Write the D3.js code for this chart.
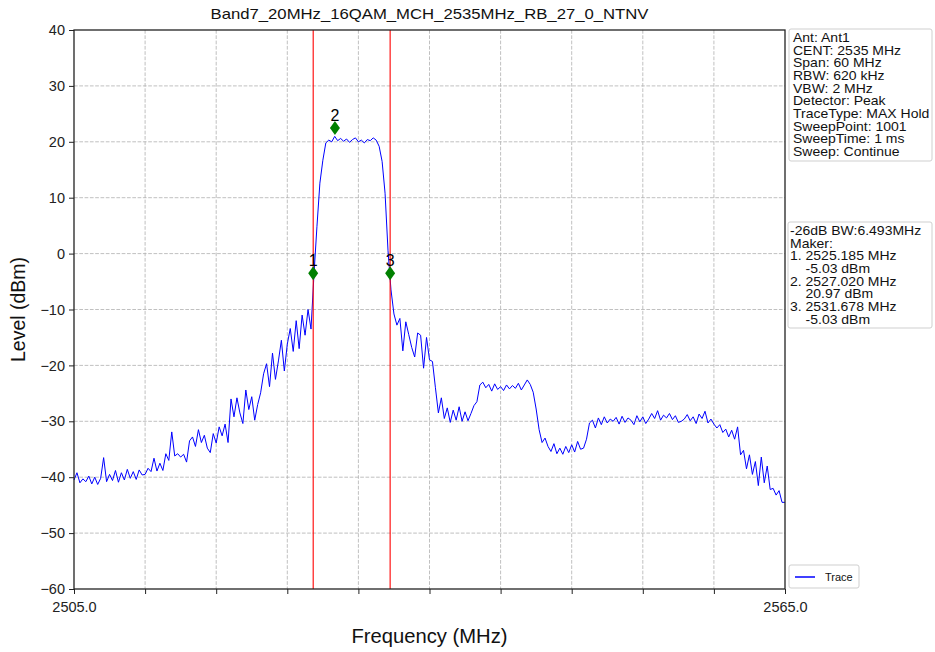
<!DOCTYPE html>
<html><head><meta charset="utf-8">
<script src="https://cdn.jsdelivr.net/npm/d3@7"></script>
<style>
body{margin:0;background:#fff;}
text{font-family:"Liberation Sans",Arial,sans-serif;}
</style></head>
<body><svg id="chart" width="935" height="652"></svg>
<script>
const titleText = "Band7_20MHz_16QAM_MCH_2535MHz_RB_27_0_NTNV";
const xDomain = [2505, 2565];
const yDomain = [-60, 40];
const yTicks = [-60, -50, -40, -30, -20, -10, 0, 10, 20, 30, 40];
const xTickCount = 10;
const xTickLabels = ["2505.0", "2565.0"];
const startFreq = 2505;
const stepMHz = 0.25;
const traceLevels = [
 -40.5,-39.2,-41.0,-40.3, -40.8,-39.8,-41.2,-40.0, -41.3,-40.2,-36.5,-40.8,
 -39.5,-40.6,-38.8,-40.9, -39.2,-40.5,-38.6,-40.2, -39.0,-40.4,-38.7,-39.6,
 -39.5,-38.4,-39.0,-36.6, -38.9,-37.5,-38.8,-35.8, -37.0,-31.9,-36.2,-35.8,
 -36.4,-35.9,-37.3,-33.5, -32.8,-34.5,-31.5,-33.8, -32.5,-34.8,-35.6,-32.2,
 -33.9,-31.0,-32.6,-30.5, -33.8,-26.0,-29.2,-25.8, -28.5,-30.4,-24.4,-27.9,
 -25.6,-29.8,-27.0,-24.9, -21.5,-19.7,-23.8,-17.8, -22.5,-19.2,-15.5,-21.0,
 -16.2,-13.4,-17.5,-12.0, -17.0,-11.0,-14.6,-10.0, -13.5,-3.8,4.8,12.6,
 16.7,19.8,20.3,20.0, 20.97,20.2,20.6,20.1, 20.5,19.9,20.4,20.7,
 20.0,20.3,19.8,20.4, 20.2,20.7,20.3,19.2, 16.5,10.8,0.5,-6.5,
 -10.8,-12.8,-11.6,-17.4, -12.2,-14.5,-16.8,-18.5, -14.2,-14.6,-20.5,-15.0,
 -19.0,-19.3,-24.0,-28.5, -25.8,-29.5,-27.6,-30.2, -28.0,-29.8,-27.4,-30.0,
 -28.3,-29.9,-28.6,-27.2, -26.5,-23.5,-23.0,-24.0, -23.4,-24.6,-23.3,-24.3,
 -23.8,-24.5,-23.5,-24.2, -23.6,-24.1,-23.2,-24.4, -23.5,-22.6,-23.4,-24.8,
 -27.8,-31.5,-33.8,-33.0, -34.5,-35.4,-34.0,-35.8, -34.8,-35.9,-34.5,-35.6,
 -34.2,-35.5,-33.6,-35.0, -34.8,-33.2,-30.3,-29.8, -31.2,-29.4,-30.6,-29.2,
 -30.3,-29.6,-30.0,-29.3, -30.5,-29.1,-30.2,-29.4, -29.8,-30.6,-29.0,-30.1,
 -29.2,-30.4,-29.6,-28.6, -29.5,-28.1,-29.8,-28.9, -29.4,-28.6,-29.7,-29.0,
 -30.2,-30.0,-29.6,-28.8, -29.9,-29.2,-30.4,-28.7, -29.5,-28.2,-30.3,-29.6,
 -30.5,-31.2,-30.6,-32.0, -31.4,-32.8,-31.6,-33.2, -31.0,-36.0,-35.2,-38.5,
 -36.0,-39.5,-37.2,-41.5, -36.4,-41.0,-38.0,-42.2, -42.0,-43.2,-42.4,-44.5,
 -44.5
];
const markerNames = ["1", "2", "3"];
const markerFreqs = [2525.185, 2527.020, 2531.678];
const markerLevels = [-5.03, 20.97, -5.03];
const redLineFreqs = [2525.185, 2531.678];
const infoLines = ["Ant: Ant1","CENT: 2535 MHz","Span: 60 MHz","RBW: 620 kHz","VBW: 2 MHz","Detector: Peak","TraceType: MAX Hold","SweepPoint: 1001","SweepTime: 1 ms","Sweep: Continue"];
const markerInfoLines = ["-26dB BW:6.493MHz","Maker:","1. 2525.185 MHz","    -5.03 dBm","2. 2527.020 MHz","    20.97 dBm","3. 2531.678 MHz","    -5.03 dBm"];
const legendLabel = "Trace";

const svg = d3.select("#chart");
const m = {l:74, r:785, t:30, b:589};
const x = d3.scaleLinear().domain(xDomain).range([m.l, m.r]);
const y = d3.scaleLinear().domain(yDomain).range([m.b, m.t]);
const xTicks = d3.range(xTickCount + 1).map(i => xDomain[0] + i * (xDomain[1]-xDomain[0]) / xTickCount);

// grid
const grid = svg.append("g").attr("stroke","#b0b0b0").attr("stroke-width",0.8).attr("stroke-dasharray","3.7,1.6");
grid.selectAll(".gx").data(xTicks.slice(1,-1)).join("line")
  .attr("x1",d=>x(d)).attr("x2",d=>x(d)).attr("y1",m.t).attr("y2",m.b);
grid.selectAll(".gy").data(yTicks.slice(1,-1)).join("line")
  .attr("x1",m.l).attr("x2",m.r).attr("y1",d=>y(d)).attr("y2",d=>y(d));

// trace
const traceData = traceLevels.map((v,i)=>({f:startFreq + i*stepMHz, v}));
svg.append("path").datum(traceData)
  .attr("fill","none").attr("stroke","#0000ff").attr("stroke-width",1)
  .attr("d", d3.line().x(d=>x(d.f)).y(d=>y(d.v)));

// red lines
svg.selectAll(".red").data(redLineFreqs).join("line")
  .attr("x1",d=>x(d)).attr("x2",d=>x(d)).attr("y1",m.t).attr("y2",m.b)
  .attr("stroke","#ff0000").attr("stroke-width",1.1);

// markers
const markerOffset = 1.5;
const mk = svg.selectAll(".mk").data(markerNames.map((n,i)=>({n, f:markerFreqs[i], v:markerLevels[i]+markerOffset}))).join("g")
  .attr("transform", d=>`translate(${x(d.f)},${y(d.v)})`);
mk.append("path").attr("d","M0,-7L5,0L0,7L-5,0Z").attr("fill","#008000");
mk.append("text").attr("y",-7).attr("text-anchor","middle").attr("font-size",16).attr("fill","#000").text(d=>d.n);

// axes
const yAxis = d3.axisLeft(y).tickValues(yTicks).tickSize(5).tickPadding(4)
  .tickFormat(d => d < 0 ? "\u2212" + Math.abs(d) : String(d));
const gy = svg.append("g").attr("transform",`translate(${m.l},0)`).call(yAxis);
gy.select(".domain").remove();
gy.selectAll("text").attr("font-size",14.5).attr("font-family","Liberation Sans, Arial, sans-serif").attr("fill","#222");
gy.selectAll("line").attr("stroke","#222");

const xAxis = d3.axisBottom(x).tickValues(xTicks).tickSize(5).tickPadding(8)
  .tickFormat((d,i) => i===0 ? xTickLabels[0] : (i===xTicks.length-1 ? xTickLabels[1] : ""));
const gx = svg.append("g").attr("transform",`translate(0,${m.b})`).call(xAxis);
gx.select(".domain").remove();
gx.selectAll("text").attr("font-size",14.5).attr("font-family","Liberation Sans, Arial, sans-serif").attr("fill","#222");
gx.selectAll("line").attr("stroke","#222");

// frame
svg.append("rect").attr("x",m.l).attr("y",m.t).attr("width",m.r-m.l).attr("height",m.b-m.t)
  .attr("fill","none").attr("stroke","#222").attr("stroke-width",1.3);

// title & labels
svg.append("text").attr("x",(m.l+m.r)/2).attr("y",19).attr("text-anchor","middle").attr("font-size",15)
  .attr("textLength",438).attr("lengthAdjust","spacingAndGlyphs").attr("fill","#111").text(titleText);
svg.append("text").attr("x",(m.l+m.r)/2).attr("y",643).attr("text-anchor","middle").attr("font-size",19.5)
  .attr("textLength",156).attr("lengthAdjust","spacingAndGlyphs").attr("fill","#111").text("Frequency (MHz)");
svg.append("text").attr("transform",`translate(25,${(m.t+m.b)/2}) rotate(-90)`).attr("text-anchor","middle").attr("font-size",19.5).attr("fill","#111").text("Level (dBm)");

// info boxes
function box(x0,y0,w,h){
  svg.append("rect").attr("x",x0).attr("y",y0).attr("width",w).attr("height",h).attr("rx",2)
    .attr("fill","#fff").attr("stroke","#cfcfcf").attr("stroke-width",1);
}
box(789,29,143,132);
svg.append("g").attr("transform","translate(793,0) scale(1.12,1)").selectAll("text").data(infoLines).join("text")
  .attr("x",0).attr("y",(d,i)=>42+i*12.65).attr("font-size",12.5).attr("fill","#111").text(d=>d);
box(788,222,144,106);
svg.append("g").attr("transform","translate(790,0) scale(1.12,1)").selectAll("text").data(markerInfoLines).join("text")
  .attr("x",0).attr("y",(d,i)=>235+i*12.7).attr("font-size",12.5).attr("fill","#111").style("white-space","pre").text(d=>d);

// legend
box(789,565,70,23);
svg.append("line").attr("x1",795).attr("x2",815).attr("y1",577).attr("y2",577).attr("stroke","#0000ff").attr("stroke-width",1.5);
svg.append("text").attr("x",825).attr("y",581).attr("font-size",11).attr("fill","#111").text(legendLabel);
</script></body></html>
